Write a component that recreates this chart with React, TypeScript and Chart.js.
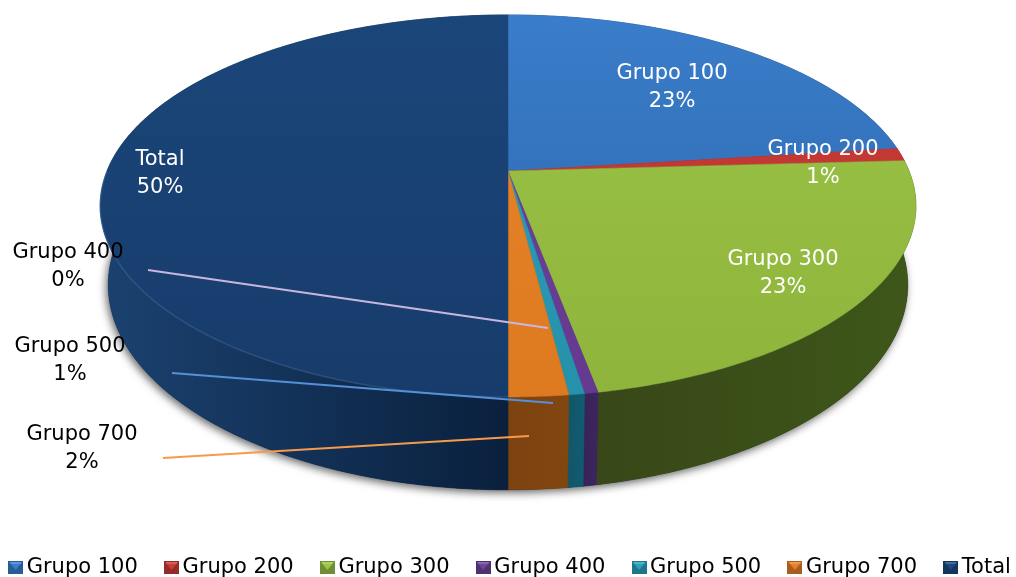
import React, { useEffect, useRef } from "react";
import { Chart, registerables } from "chart.js";

Chart.register(...registerables);

const categories = ["Grupo 100", "Grupo 200", "Grupo 300", "Grupo 400", "Grupo 500", "Grupo 700", "Total"];
const shares = [23, 1.1, 22.95, 0.45, 0.52, 1.98, 50];

const topLight = ["#3a7dca", "#cc3d38", "#9ac445", "#6f449c", "#2ba3bf", "#e9832a", "#1b4679"];
const topDark = ["#2b64a8", "#b3302c", "#8fb43c", "#64398f", "#2591aa", "#dd7a1f", "#173c6c"];
const wallInner = ["#1c3f6a", "#6e1f1c", "#384718", "#382357", "#115669", "#7c4210", "#0a203d"];
const wallOuter = ["#1c3f6a", "#7a2421", "#3e5719", "#3d265f", "#125c70", "#824610", "#1b4270"];
const markerColors = ["#3a7fcf", "#cc3d38", "#9cc547", "#6f449c", "#2ba3bf", "#e9832a", "#1c4a80"];
const labelColors = ["#fff", "#fff", "#fff", "#000", "#000", "#000", "#fff"];

const labelCentres: [number, number][] = [
  [672, 74], [823, 150], [783, 260], [68, 253], [70, 347], [82, 435], [160, 160],
];

const leaderLines: { from: [number, number]; to: [number, number]; color: string }[] = [
  { from: [148, 270], to: [548, 328], color: "#c9b6de" },
  { from: [172, 373], to: [553, 403], color: "#5590d8" },
  { from: [163, 458], to: [529, 436], color: "#f79a4a" },
];

const FONT_SIZE = 21;
const FONT = `${FONT_SIZE}px "DejaVu Sans"`;
const K = 0.183;
const CX = 508;
const TOP_PLANE = { cy: 171, a: 184.6, b: 401 };
const BASE_PLANE = { cy: 247.5, a: 198, b: 393 };
const CANVAS_W = 1098;
const CANVAS_H = 588;
const OFFSET_X = 36;

type Plane = { cy: number; a: number; b: number };
function project(plane: Plane, angle: number): [number, number] {
  const x = Math.cos(angle);
  const y = Math.sin(angle);
  const w = 1 - K * y;
  return [CX + (plane.b * x) / w, plane.cy + (plane.a * y) / w];
}

function arcPoints(plane: Plane, a0: number, a1: number) {
  const pts: [number, number][] = [];
  const n = Math.max(2, Math.ceil(Math.abs(a1 - a0) / 0.01));
  for (let i = 0; i <= n; i++) pts.push(project(plane, a0 + ((a1 - a0) * i) / n));
  return pts;
}

function makeMarker(color: string) {
  const c = document.createElement("canvas");
  c.width = 15;
  c.height = 13;
  const g = c.getContext("2d")!;
  g.fillStyle = color;
  g.fillRect(0, 0, 15, 13);
  g.fillStyle = "rgba(0,0,0,0.28)";
  g.fillRect(0, 0, 15, 13);
  g.fillStyle = color;
  g.beginPath();
  g.moveTo(1, 1);
  g.lineTo(14, 1);
  g.lineTo(7.5, 9);
  g.closePath();
  g.fill();
  g.fillStyle = "rgba(255,255,255,0.18)";
  g.fillRect(2, 1, 11, 2);
  return c;
}

const pie3d = {
  id: "pie3d",
  beforeDatasetsDraw(chart: any) {
    const ctx: CanvasRenderingContext2D = chart.ctx;
    const arcs = chart.getDatasetMeta(0).data;
    ctx.save();
    ctx.translate(OFFSET_X, 0);

    ctx.save();
    ctx.shadowColor = "rgba(0,0,0,0.6)";
    ctx.shadowBlur = 9;
    ctx.shadowOffsetX = -2;
    ctx.shadowOffsetY = 3;
    ctx.fillStyle = "#0a203d";
    ctx.beginPath();
    arcPoints(BASE_PLANE, 0, Math.PI * 2).forEach((p, i) => (i ? ctx.lineTo(p[0], p[1]) : ctx.moveTo(p[0], p[1])));
    ctx.closePath();
    ctx.fill();
    ctx.restore();

    arcs.forEach((arc: any, i: number) => {
      const top = arcPoints(TOP_PLANE, arc.startAngle, arc.endAngle);
      const base = arcPoints(BASE_PLANE, arc.startAngle, arc.endAngle);
      const xs = top.map((p) => p[0]);
      const x0 = Math.min(...xs);
      const x1 = Math.max(...xs);
      const left = (x0 + x1) / 2 < CX;
      const g = ctx.createLinearGradient(x0 - 1, 0, x1 + 1, 0);
      g.addColorStop(0, left ? wallOuter[i] : wallInner[i]);
      g.addColorStop(1, left ? wallInner[i] : wallOuter[i]);
      ctx.fillStyle = g;
      ctx.strokeStyle = g;
      ctx.lineWidth = 0.6;
      ctx.beginPath();
      top.forEach((p, j) => (j ? ctx.lineTo(p[0], p[1]) : ctx.moveTo(p[0], p[1])));
      base.reverse().forEach((p) => ctx.lineTo(p[0], p[1]));
      ctx.closePath();
      ctx.fill();
      ctx.stroke();
    });

    arcs.forEach((arc: any, i: number) => {
      const pts = arcPoints(TOP_PLANE, arc.startAngle, arc.endAngle);
      const g = ctx.createLinearGradient(0, 15, 0, 397);
      g.addColorStop(0, topLight[i]);
      g.addColorStop(1, topDark[i]);
      ctx.fillStyle = g;
      ctx.strokeStyle = g;
      ctx.lineWidth = 0.5;
      ctx.beginPath();
      ctx.moveTo(CX, TOP_PLANE.cy);
      pts.forEach((p) => ctx.lineTo(p[0], p[1]));
      ctx.closePath();
      ctx.fill();
      ctx.stroke();
    });

    const lastArc = arcs[arcs.length - 1];
    ctx.strokeStyle = "rgba(170,200,235,0.16)";
    ctx.lineWidth = 1.5;
    ctx.beginPath();
    arcPoints(TOP_PLANE, lastArc.startAngle, lastArc.startAngle + Math.PI / 2).forEach((p, j) =>
      j ? ctx.lineTo(p[0], p[1]) : ctx.moveTo(p[0], p[1])
    );
    ctx.stroke();

    ctx.lineWidth = 2;
    leaderLines.forEach((l) => {
      ctx.strokeStyle = l.color;
      ctx.beginPath();
      ctx.moveTo(l.from[0], l.from[1]);
      ctx.lineTo(l.to[0], l.to[1]);
      ctx.stroke();
    });

    const total = shares.reduce((s, v) => s + v, 0);
    ctx.font = FONT;
    ctx.textAlign = "center";
    ctx.textBaseline = "middle";
    categories.forEach((name, i) => {
      const [x, y] = labelCentres[i];
      ctx.fillStyle = labelColors[i];
      ctx.fillText(name, x, y);
      ctx.fillText(`${Math.round((shares[i] / total) * 100)}%`, x, y + 28);
    });

    ctx.restore();
    return false;
  },
};

export default function App() {
  const ref = useRef<HTMLCanvasElement>(null);
  useEffect(() => {
    const markers = markerColors.map(makeMarker);
    const chart = new Chart(ref.current!, {
      type: "pie",
      data: {
        labels: categories,
        datasets: [{ data: shares, backgroundColor: topLight, borderWidth: 0 }],
      },
      plugins: [pie3d as any],
      options: {
        animation: false,
        responsive: false,
        devicePixelRatio: 1,
        plugins: {
          tooltip: { enabled: false },
          legend: {
            position: "bottom",
            labels: {
              usePointStyle: true,
              pointStyleWidth: 1,
              padding: 33.2,
              color: "#000",
              font: { family: "DejaVu Sans", size: FONT_SIZE },
              generateLabels: () =>
                categories.map((text, index) => ({
                  text,
                  index,
                  pointStyle: markers[index],
                  fillStyle: markerColors[index],
                  strokeStyle: markerColors[index],
                  lineWidth: 0,
                  hidden: false,
                })),
            },
          },
        },
      },
    } as any);
    return () => chart.destroy();
  }, []);
  return (
    <div style={{ position: "fixed", left: 0, top: 0, width: 1016, height: 577, overflow: "hidden" }}>
      <canvas
        ref={ref}
        width={CANVAS_W}
        height={CANVAS_H}
        style={{ position: "absolute", left: -OFFSET_X, top: 0, display: "block", width: CANVAS_W, height: CANVAS_H }}
      />
    </div>
  );
}
